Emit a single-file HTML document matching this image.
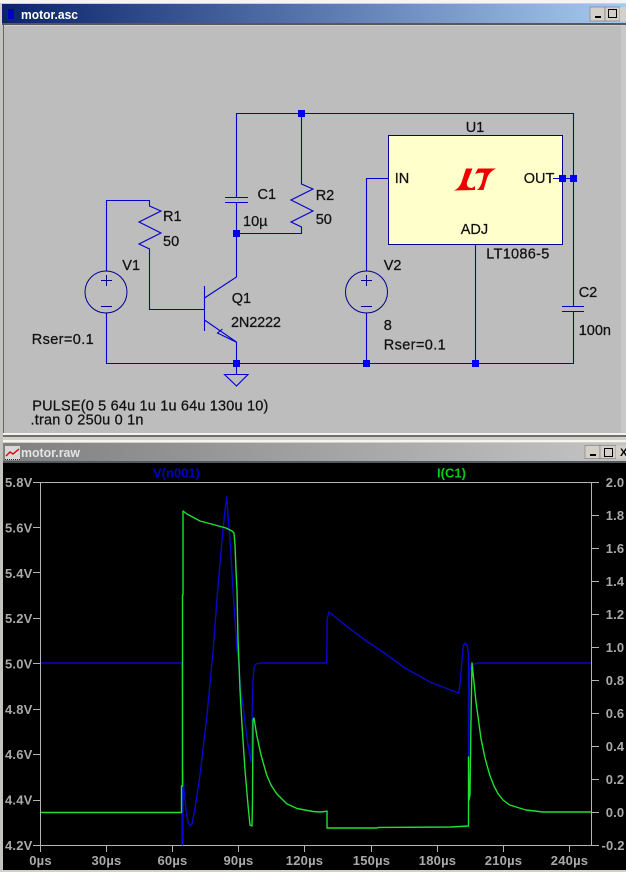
<!DOCTYPE html>
<html><head><meta charset="utf-8"><style>
html,body{margin:0;padding:0;background:#d4d0c8}
svg{display:block}
.l{font-family:"Liberation Sans",Arial,sans-serif;font-size:14.5px;fill:#111;stroke:#111;stroke-width:.25}
.a{font-family:"Liberation Sans",Arial,sans-serif;font-size:13px;font-weight:bold;fill:#a9a9a9;letter-spacing:.2px}
.w{fill:none;stroke:#0000d0;stroke-width:1.1}
.s{fill:none;stroke:#000090;stroke-width:1}
.j{fill:#0000f0}
.t{fill:none;stroke-width:1.4;stroke-linejoin:round}
.g{stroke:#b4b4b4;stroke-width:1;fill:none}
</style></head><body>
<svg width="626" height="872" viewBox="0 0 626 872" xmlns="http://www.w3.org/2000/svg">
<defs>
<linearGradient id="b" x1="0" x2="1" y1="0" y2="0"><stop offset="0" stop-color="#0a246a"/><stop offset="1" stop-color="#a6caf0"/></linearGradient>
<linearGradient id="h" x1="0" x2="1" y1="0" y2="0"><stop offset="0" stop-color="#808080"/><stop offset="1" stop-color="#c4c4c4"/></linearGradient>
</defs>
<rect width="626" height="872" fill="#d4d0c8"/>
<rect width="626" height="3" fill="#f4f4f0"/>
<!-- schematic window -->
<rect x="2" y="4" width="624" height="19" fill="url(#b)"/>
<rect x="2" y="23" width="624" height="2" fill="#55585c"/>
<rect x="3" y="25" width="1" height="408" fill="#666"/>
<rect x="4" y="26" width="617" height="407" fill="#bdbdbd"/>
<rect x="621" y="26" width="5" height="407" fill="#c8c8c8"/>
<rect x="8" y="9" width="6" height="10" fill="#0000c0"/>
<text x="21" y="19" font-family="Liberation Sans,Arial,sans-serif" font-size="13" font-weight="bold" fill="#fff" textLength="57" lengthAdjust="spacingAndGlyphs">motor.asc</text>
<g>
<rect x="590" y="7" width="15" height="14" fill="#d4d0c8" stroke="#777" stroke-width=".6"/>
<rect x="595" y="16" width="6" height="2" fill="#000"/>
<rect x="605" y="7" width="15" height="14" fill="#d4d0c8" stroke="#777" stroke-width=".6"/>
<rect x="608.500" y="9.500" width="8" height="8" fill="none" stroke="#000"/>
<rect x="620" y="7" width="6" height="14" fill="#d4d0c8"/>
</g>

<!-- U1 box -->
<rect x="388.500" y="135.500" width="174" height="109" fill="#ffffcc" stroke="#000090"/>
<!-- LT logo -->
<path d="M466 168.500 L472.500 168.500 L467 182 Q466 188 472 188 L475 186 L475 190 L454 190.500 Q460 188 462 181 Z" fill="#f00000"/>
<path d="M478 168.500 L496 168.500 Q489 172 487 178 L483.500 190 L477 190 Q481 187 482.500 180 L484 173 Q481 172 475 174 Z" fill="#f00000"/>

<!-- wires -->
<path class="w" d="M236.500 197V113.500H573.500V306M573.500 311V363.500H106.500V313M106.500 271V200.500H149.500V206L161 211L139 222L161 233L139 244L149.500 249V309.500H204.500"/>
<path class="w" d="M225 197.500H248M225 202.500H248M236.500 203V277L204.500 298M204.500 286V331"/>
<path class="w" d="M301.500 113V184L313 189L291 200L313 211L291 222L301.500 227V233.500H236.500"/>
<path class="w" d="M204.500 320L236.500 342V363M236 342L217.500 333L222.500 329"/>
<path class="w" d="M236.500 363V374.500M224.500 374.500H248L236.500 386Z"/>
<path class="w" d="M366.500 271V178.500H388.500M366.500 313V363M475.500 245V363M553 178.500H574M562 306.500H584M562 311.500H584"/>
<circle class="s" cx="106" cy="292" r="21"/>
<path class="s" d="M106.500 275V286M101 280.500H112M101 306.500H112"/>
<circle class="s" cx="366.500" cy="292" r="21"/>
<path class="s" d="M366.500 275V286M361 280.500H372M361 306.500H372"/>
<rect class="j" x="298" y="110" width="7" height="7"/>
<rect class="j" x="233" y="230" width="7" height="7"/>
<rect class="j" x="233" y="360" width="7" height="7"/>
<rect class="j" x="363" y="360" width="7" height="7"/>
<rect class="j" x="472" y="360" width="7" height="7"/>
<rect class="j" x="559" y="175" width="7" height="7"/>
<rect class="j" x="570" y="175" width="7" height="7"/>

<!-- labels -->
<text class="l" x="465.700" y="132">U1</text>
<text class="l" x="394.700" y="183">IN</text>
<text class="l" x="523.700" y="183">OUT</text>
<text class="l" x="460.700" y="234">ADJ</text>
<text class="l" x="486.300" y="258.500" textLength="63">LT1086-5</text>
<text class="l" x="383.700" y="270">V2</text>
<text class="l" x="383.700" y="330">8</text>
<text class="l" x="383.700" y="349.500" textLength="62">Rser=0.1</text>
<text class="l" x="578.700" y="297">C2</text>
<text class="l" x="578.700" y="335">100n</text>
<text class="l" x="257.500" y="199">C1</text>
<text class="l" x="243" y="226">10µ</text>
<text class="l" x="163" y="221">R1</text>
<text class="l" x="163" y="246">50</text>
<text class="l" x="315.700" y="200">R2</text>
<text class="l" x="315.700" y="224">50</text>
<text class="l" x="122.300" y="270">V1</text>
<text class="l" x="231.700" y="303">Q1</text>
<text class="l" x="231" y="327" textLength="50">2N2222</text>
<text class="l" x="31.700" y="344" textLength="62">Rser=0.1</text>
<text class="l" x="32.300" y="410.500" textLength="236">PULSE(0 5 64u 1u 1u 64u 130u 10)</text>
<text class="l" x="30.500" y="424.500" textLength="113">.tran 0 250u 0 1n</text>

<!-- separation -->
<rect x="0" y="433" width="626" height="2" fill="#f2f2ee"/>
<rect x="0" y="435" width="626" height="2" fill="#6e6e6e"/>
<rect x="0" y="437" width="626" height="3" fill="#d4d0c8"/>
<rect x="0" y="440" width="626" height="2" fill="#f4f4f0"/>

<!-- plot window -->
<rect x="3" y="443" width="623" height="19" fill="url(#h)"/>
<rect x="3" y="461" width="623" height="2" fill="#55585c"/>
<rect x="5" y="446" width="15" height="14" fill="#d8d8d8"/>
<path d="M6 456L10 452L13 454L19 449" fill="none" stroke="#e00000" stroke-width="1.400"/>
<path d="M5 459.500H20" stroke="#222" stroke-dasharray="1 1"/>
<text x="21" y="457" font-family="Liberation Sans,Arial,sans-serif" font-size="13" font-weight="bold" fill="#e4e4e4" textLength="59" lengthAdjust="spacingAndGlyphs">motor.raw</text>
<rect x="585" y="445.500" width="15" height="13" fill="#d4d0c8" stroke="#777" stroke-width=".6"/>
<rect x="590" y="454" width="6" height="2" fill="#000"/>
<rect x="600" y="445.500" width="16" height="13" fill="#d4d0c8" stroke="#777" stroke-width=".6"/>
<rect x="604.500" y="448.500" width="8" height="8" fill="none" stroke="#000"/>
<rect x="616" y="445.500" width="10" height="13" fill="#d4d0c8"/>
<text x="620" y="456" font-family="Liberation Sans,sans-serif" font-size="11" font-weight="bold" fill="#000">X</text>
<rect x="3" y="463" width="623" height="407" fill="#000"/>

<!-- axes -->
<path class="g" d="M33 482.500H599M33 845.500H599M40.500 482V852M591.500 482V845"/>
<path class="g" d="M33 527.500H40M33 572.500H40M33 618.500H40M33 663.500H40M33 709.500H40M33 754.500H40M33 800.500H40"/>
<path class="g" d="M591 515.500H599M591 548.500H599M591 581.500H599M591 614.500H599M591 647.500H599M591 680.500H599M591 713.500H599M591 746.500H599M591 779.500H599M591 812.500H599"/>
<path class="g" d="M106.500 845V852M172.500 845V852M238.500 845V852M304.500 845V852M371.500 845V852M437.500 845V852M503.500 845V852M569.500 845V852"/>
<g class="a">
<text x="5" y="487">5.8V</text><text x="5" y="532.500">5.6V</text><text x="5" y="578">5.4V</text><text x="5" y="623">5.2V</text><text x="5" y="668.500">5.0V</text><text x="5" y="714">4.8V</text><text x="5" y="759">4.6V</text><text x="5" y="804.500">4.4V</text><text x="5" y="850">4.2V</text>
<text x="605.700" y="487">2.0</text><text x="605.700" y="520">1.8</text><text x="605.700" y="553">1.6</text><text x="605.700" y="586">1.4</text><text x="605.700" y="619">1.2</text><text x="605.700" y="652">1.0</text><text x="605.700" y="685">0.8</text><text x="605.700" y="718">0.6</text><text x="605.700" y="751">0.4</text><text x="605.700" y="784">0.2</text><text x="605.700" y="817">0.0</text><text x="601.500" y="850">-0.2</text>
<g text-anchor="middle">
<text x="40.500" y="865">0µs</text><text x="106.500" y="865">30µs</text><text x="172.500" y="865">60µs</text><text x="238.500" y="865">90µs</text><text x="304.500" y="865">120µs</text><text x="371.500" y="865">150µs</text><text x="437.500" y="865">180µs</text><text x="503.500" y="865">210µs</text><text x="569.500" y="865">240µs</text>
</g>
</g>
<text x="153" y="477.500" font-family="Liberation Sans,sans-serif" font-size="13" font-weight="bold" fill="#0000c0" textLength="47">V(n001)</text>
<text x="437" y="477.500" font-family="Liberation Sans,sans-serif" font-size="13" font-weight="bold" fill="#00d010" textLength="29">I(C1)</text>

<!-- blue trace -->
<path class="t" stroke="#0808c8" d="M41 663H181.500L182 668L182.500 845L183 770L184 790L186 810L188 822L190 826L192 824L195 808L200 775L207 715L213 652L216.700 603L220 563L223 530L225 510L226.700 497L228 515L230 540L233 590L237 650L238.500 660L240 682L245 722L248 745L251 762L252 720L253 680L254 667L256 664L260 663H326.500L327 640V620L329 612L345 625L365 640L383 652L405 668L430 682L458.500 693L460 685L461 672L462.500 655L463.500 645L465.500 643L467.500 646L468.500 655V755L469.500 672L471 665L478 663H591"/>
<path d="M182.500 845V790" stroke="#0808e0" stroke-width="2.200" fill="none"/>
<!-- green trace -->
<path class="t" stroke="#20e030" d="M41 812.500H181.500V786H182.500V595H183V511L187 514L200 521L215 525L226 528L232 531L234 533L235 545L236 570L237 590L238 640L239 663L240 690L242 725L245 770L248 805L250 825L252 826L252.500 800L253 720L254 718L256.700 735L261 755L266.700 775L271 785L276.700 793.700L286.700 803.700L297 808.500L313 811.500L320 812L325 811.500L327 811V828H377L378 827.500L451 827L468.500 826V757L469 800L470 795L471 720L472 663L476 702L481 738.700L485 758L489.700 775L494 786L498 793.700L503 800L509.700 805L526 810L543 812H591"/>

<rect x="0" y="25" width="3" height="847" fill="#c4c2bc"/>
<rect x="0" y="870" width="626" height="2" fill="#d4d0c8"/>
</svg>
</body></html>
